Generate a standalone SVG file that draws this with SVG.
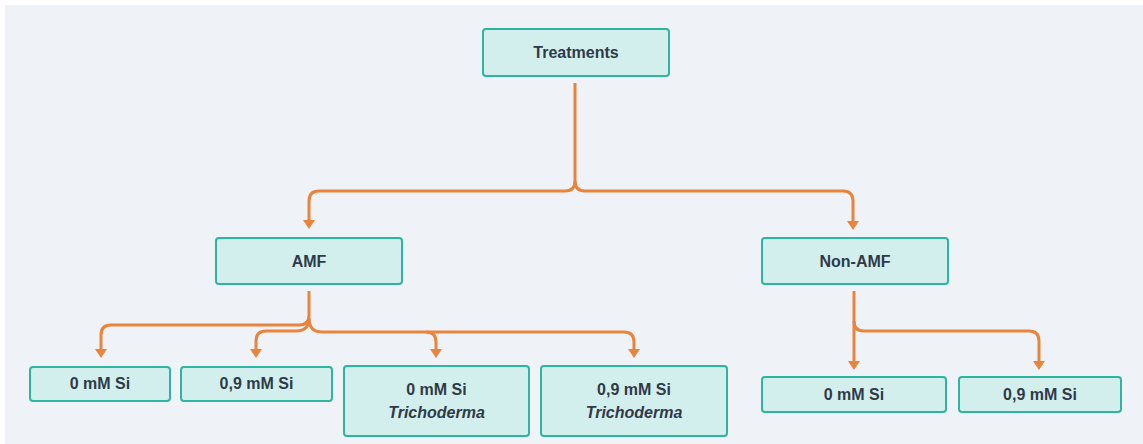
<svg xmlns="http://www.w3.org/2000/svg" width="1143" height="444" viewBox="0 0 1143 444">
<defs>
<style>
.box{fill:#d3efed;stroke:#2db5a1;stroke-width:2}
.t{font-family:"Liberation Sans",Arial,sans-serif;font-weight:bold;font-size:16px;fill:#2f3a48;text-anchor:middle}
.i{font-style:italic}
.c{fill:none;stroke:#ea843c;stroke-width:3}
</style>
<marker id="ah" viewBox="0 0 9 12" refX="2" refY="6" markerWidth="9" markerHeight="12" markerUnits="userSpaceOnUse" orient="auto">
<path d="M0,0 L9,6 L0,12 z" fill="#ea843c"/>
</marker>
</defs>
<rect x="0" y="0" width="1143" height="444" fill="#ffffff"/>
<rect x="5" y="5" width="1138" height="439" fill="#eff3f7"/>
<g id="connectors">
<path class="c" d="M575,83 V181 Q575,191 565,191 H319 Q309,191 309,201 V222" marker-end="url(#ah)"/>
<path class="c" d="M575,181 Q575,191 585,191 H843 Q853,191 853,201 V223" marker-end="url(#ah)"/>
<path class="c" d="M309,291 V315 Q309,325 299,325 H111 Q101,325 101,335 V351" marker-end="url(#ah)"/>
<path class="c" d="M309,318 Q309,331 296,331 H266 Q256,331 256,341 V351" marker-end="url(#ah)"/>
<path class="c" d="M309,318 Q309,332 322,332 H426 Q436,332 436,342 V351" marker-end="url(#ah)"/>
<path class="c" d="M426,332 H624 Q634,332 634,342 V351" marker-end="url(#ah)"/>
<path class="c" d="M854,291 V363" marker-end="url(#ah)"/>
<path class="c" d="M854,321 Q854,331 864,331 H1029 Q1039,331 1039,341 V363" marker-end="url(#ah)"/>
</g>
<g id="treatments"><rect class="box" x="483" y="29" width="186" height="47" rx="3"/><text class="t" x="576" y="58">Treatments</text></g>
<g id="amf"><rect class="box" x="216" y="238" width="186" height="46" rx="3"/><text class="t" x="309" y="267">AMF</text></g>
<g id="non-amf"><rect class="box" x="762" y="238" width="186" height="46" rx="3"/><text class="t" x="855" y="267">Non-AMF</text></g>
<g id="amf-0si"><rect class="box" x="30" y="367" width="140" height="34" rx="3"/><text class="t" x="100" y="389">0 mM Si</text></g>
<g id="amf-09si"><rect class="box" x="181" y="367" width="151" height="34" rx="3"/><text class="t" x="256.5" y="389">0,9 mM Si</text></g>
<g id="amf-0si-tri"><rect class="box" x="344" y="366" width="185" height="70" rx="3"/><text class="t" x="436.5" y="395">0 mM Si</text><text class="t i" x="436.5" y="418">Trichoderma</text></g>
<g id="amf-09si-tri"><rect class="box" x="541" y="366" width="186" height="70" rx="3"/><text class="t" x="634" y="395">0,9 mM Si</text><text class="t i" x="634" y="418">Trichoderma</text></g>
<g id="non-0si"><rect class="box" x="762" y="377" width="184" height="35" rx="3"/><text class="t" x="854" y="400">0 mM Si</text></g>
<g id="non-09si"><rect class="box" x="959" y="377" width="162" height="35" rx="3"/><text class="t" x="1040" y="400">0,9 mM Si</text></g>
</svg>
